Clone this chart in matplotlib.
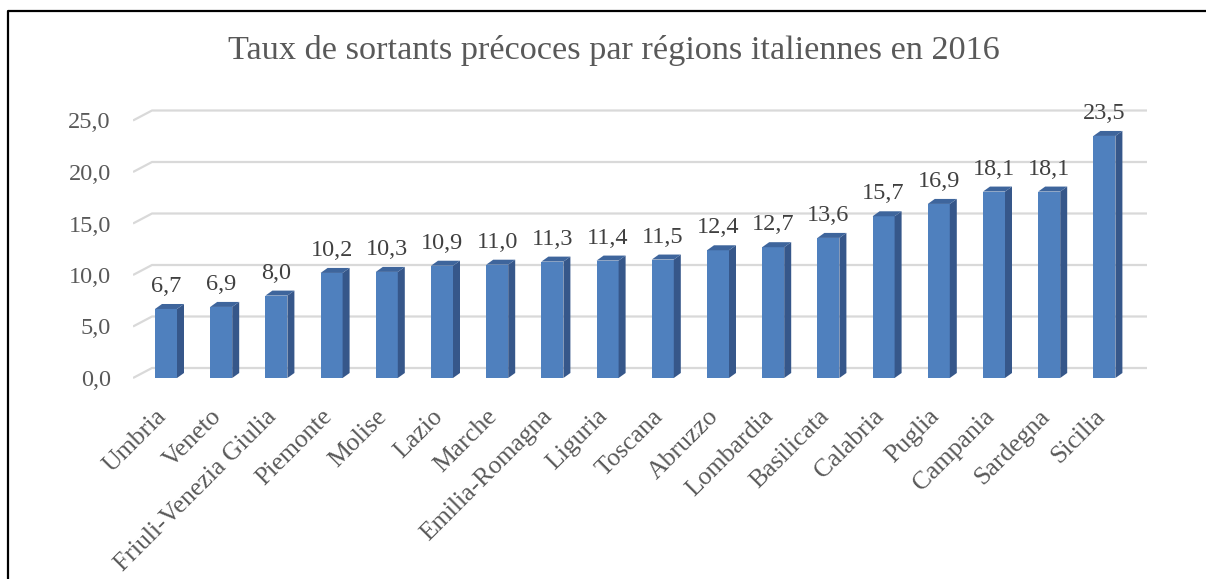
import matplotlib
matplotlib.use("Agg")
import matplotlib.pyplot as plt
from matplotlib.patches import Polygon
from matplotlib.lines import Line2D
import numpy as np

regions = ["Umbria", "Veneto", "Friuli-Venezia Giulia", "Piemonte", "Molise", "Lazio",
           "Marche", "Emilia-Romagna", "Liguria", "Toscana", "Abruzzo", "Lombardia",
           "Basilicata", "Calabria", "Puglia", "Campania", "Sardegna", "Sicilia"]
values = [6.7, 6.9, 8.0, 10.2, 10.3, 10.9, 11.0, 11.3, 11.4, 11.5, 12.4, 12.7,
          13.6, 15.7, 16.9, 18.1, 18.1, 23.5]
yticks = [0, 5, 10, 15, 20, 25]
title = "Taux de sortants précoces par régions italiennes en 2016"

plt.rcParams['font.family'] = ['Liberation Serif', 'DejaVu Serif']

W, H, DPI = 1206, 579, 100
fig = plt.figure(figsize=(W / DPI, H / DPI), dpi=DPI)
fig.patch.set_facecolor("white")

# axes placement (pixels)
L, R, B, T = 133, 1147, 390, 100
ax = fig.add_axes([L / W, (H - B) / H, (R - L) / W, (B - T) / H])
step_px, c0_px = 55.2, 166.0
ypx = 10.3
ax.set_xlim((L - c0_px) / step_px, (R - c0_px) / step_px)
ax.set_ylim(-(B - 378) / ypx, (378 - T) / ypx)
for s in ax.spines.values():
    s.set_visible(False)
ax.set_facecolor("none")

# 3D offsets (data units)
wall_dx, wall_dy = 19 / step_px, 10 / ypx
bar_dx, bar_dy = 7 / step_px, 5 / ypx
bw = 22 / step_px

grid_c = "#d9d9d9"
x0, x1 = ax.get_xlim()
for v in yticks:
    ax.plot([x0, x0 + wall_dx, x1], [v, v + wall_dy, v + wall_dy],
            color=grid_c, lw=1.6, zorder=1, solid_capstyle="butt")

x = np.arange(len(regions))
front_c, side_c, top_c = "#4F80BE", "#36578A", "#3E659C"
ax.bar(x, values, width=bw, color=front_c, zorder=3, linewidth=0)
for xi, v in zip(x, values):
    l, r = xi - bw / 2, xi + bw / 2
    ax.add_patch(Polygon([[r, 0], [r + bar_dx, bar_dy], [r + bar_dx, v + bar_dy], [r, v]],
                         closed=True, facecolor=side_c, edgecolor="none", zorder=3))
    ax.add_patch(Polygon([[l, v], [l + bar_dx, v + bar_dy], [r + bar_dx, v + bar_dy], [r, v]],
                         closed=True, facecolor=top_c, edgecolor="none", zorder=3))
    ax.annotate(f"{v:.1f}".replace(".", ","), xy=(xi, v + bar_dy), xytext=(0, 12),
                textcoords="offset pixels", ha="center", va="baseline",
                fontsize=17.5, color="#404040", zorder=4)

ax.set_yticks(yticks)
ax.set_yticklabels([f"{v:.1f}".replace(".", ",") for v in yticks], fontsize=17.5, color="#595959")
ax.tick_params(axis="y", length=0, pad=16)
ax.set_xticks([])

for xi, name in zip(x, regions):
    ax.annotate(name, xy=(xi, 0), xytext=(-3, -35), textcoords="offset pixels",
                rotation=45, rotation_mode="anchor", ha="right", va="center",
                fontsize=18.5, color="#595959")

fig.text(614 / W, 1 - 50 / H, title, ha="center", va="center", fontsize=24.7, color="#595959")

# outer frame (top and left edges)
fig.add_artist(Line2D([8 / W, 8 / W, 1.0], [0.0, 1 - 10.5 / H, 1 - 10.5 / H],
                      transform=fig.transFigure, color="black", lw=1.6))

fig.savefig("out.png", dpi=DPI)
